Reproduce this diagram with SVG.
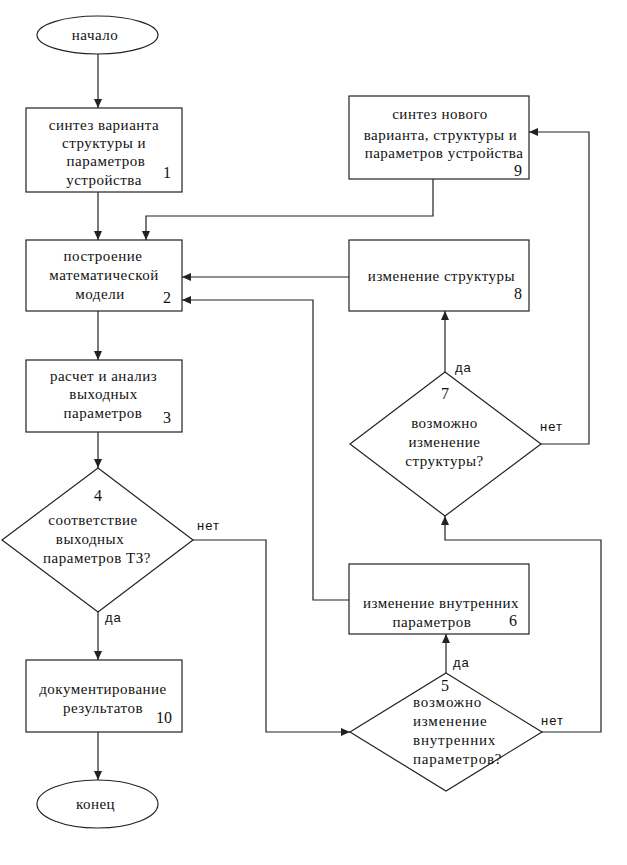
<svg xmlns="http://www.w3.org/2000/svg" width="627" height="865" viewBox="0 0 627 865">
<style>
.box{fill:#fff;stroke:#222;stroke-width:1.2}
text{font-family:'Liberation Serif','Times New Roman','DejaVu Serif',serif;fill:#111}
.t{font-size:15px;text-anchor:middle;letter-spacing:0.5px}
.ts{font-size:15px;text-anchor:start;letter-spacing:0.8px}
.n{font-size:16px;text-anchor:middle}
text.lb{font-family:'Liberation Sans',Arial,sans-serif;font-size:13px;letter-spacing:1px}
.c{fill:none;stroke:#222;stroke-width:1.2}
</style>
<defs>
<marker id="ah" markerUnits="userSpaceOnUse" markerWidth="10" markerHeight="10" refX="9" refY="4" orient="auto">
<path d="M0,0 L9,4 L0,8 z" fill="#222"/>
</marker>
</defs>
<rect width="627" height="865" fill="#fff"/>
<g id="connectors">
<path class="c" d="M98,54 V108" marker-end="url(#ah)"/>
<path class="c" d="M98,192 V240" marker-end="url(#ah)"/>
<path class="c" d="M433,179 V216 H146 V240" marker-end="url(#ah)"/>
<path class="c" d="M349,277 H182" marker-end="url(#ah)"/>
<path class="c" d="M349,600 H313 V300 H182" marker-end="url(#ah)"/>
<path class="c" d="M98,311 V360" marker-end="url(#ah)"/>
<path class="c" d="M98,432 V468" marker-end="url(#ah)"/>
<path class="c" d="M98,612 V660" marker-end="url(#ah)"/>
<path class="c" d="M193,540 H266 V732 H350" marker-end="url(#ah)"/>
<path class="c" d="M98,732 V780" marker-end="url(#ah)"/>
<path class="c" d="M446,673 V634" marker-end="url(#ah)"/>
<path class="c" d="M542,732 H601 V540 H445 V516" marker-end="url(#ah)"/>
<path class="c" d="M445,372 V311" marker-end="url(#ah)"/>
<path class="c" d="M541,444 H589 V132 H529" marker-end="url(#ah)"/>
<text class="lb" x="197" y="530">нет</text>
<text class="lb" x="105" y="622">да</text>
<text class="lb" x="453" y="667">да</text>
<text class="lb" x="541" y="725">нет</text>
<text class="lb" x="455" y="372">да</text>
<text class="lb" x="540" y="431">нет</text>
</g>
<g id="start">
<ellipse class="box" cx="97.5" cy="35" rx="60.5" ry="19"/>
<text class="t" x="95" y="40">начало</text>
</g>
<g id="n1">
<rect class="box" x="26" y="108" width="156" height="84"/>
<text class="t" x="104" y="130">синтез варианта</text>
<text class="t" x="104" y="148">структуры и</text>
<text class="t" x="106" y="166">параметров</text>
<text class="t" x="104" y="185">устройства</text>
<text class="n" x="167" y="178">1</text>
</g>
<g id="n2">
<rect class="box" x="26" y="240" width="156" height="71"/>
<text class="t" x="103" y="261">построение</text>
<text class="t" x="104" y="280">математической</text>
<text class="t" x="100" y="299">модели</text>
<text class="n" x="167" y="303">2</text>
</g>
<g id="n3">
<rect class="box" x="26" y="360" width="156" height="72"/>
<text class="t" x="103.5" y="381">расчет и анализ</text>
<text class="t" x="103.5" y="399">выходных</text>
<text class="t" x="103" y="418">параметров</text>
<text class="n" x="167" y="423">3</text>
</g>
<g id="n4">
<polygon class="box" points="98,468 193,540 98,612 2,540"/>
<text class="n" x="98" y="501">4</text>
<text class="t" x="93" y="525">соответствие</text>
<text class="t" x="90" y="544">выходных</text>
<text class="t" x="97" y="563">параметров ТЗ?</text>
</g>
<g id="n10">
<rect class="box" x="26" y="660" width="156" height="72"/>
<text class="t" x="103" y="694">документирование</text>
<text class="t" x="103" y="713">результатов</text>
<text class="n" x="164" y="723">10</text>
</g>
<g id="end">
<ellipse class="box" cx="97.5" cy="804" rx="60.5" ry="24"/>
<text class="t" x="95.5" y="809">конец</text>
</g>
<g id="n9">
<rect class="box" x="349" y="96" width="180" height="83"/>
<text class="t" x="440" y="119">синтез нового</text>
<text class="t" x="440.5" y="140">варианта, структуры и</text>
<text class="t" x="444" y="158">параметров  устройства</text>
<text class="n" x="518" y="176">9</text>
</g>
<g id="n8">
<rect class="box" x="349" y="240" width="180" height="71"/>
<text class="t" x="441.5" y="281">изменение структуры</text>
<text class="n" x="518" y="299">8</text>
</g>
<g id="n7">
<polygon class="box" points="445,372 541,444 445,516 350,444"/>
<text class="n" x="445" y="399">7</text>
<text class="t" x="444.5" y="428">возможно</text>
<text class="t" x="444.5" y="447">изменение</text>
<text class="t" x="444.5" y="466">структуры?</text>
</g>
<g id="n6">
<rect class="box" x="349" y="564" width="180" height="70"/>
<text class="t" x="441" y="608">изменение внутренних</text>
<text class="t" x="432" y="627">параметров</text>
<text class="n" x="513" y="626">6</text>
</g>
<g id="n5">
<polygon class="box" points="446,673 542,732 446,791 350,732"/>
<text class="n" x="445" y="691">5</text>
<text class="ts" x="413" y="707">возможно</text>
<text class="ts" x="413" y="726">изменение</text>
<text class="ts" x="413" y="745">внутренних</text>
<text class="ts" x="413" y="764">параметров?</text>
</g>
</svg>
